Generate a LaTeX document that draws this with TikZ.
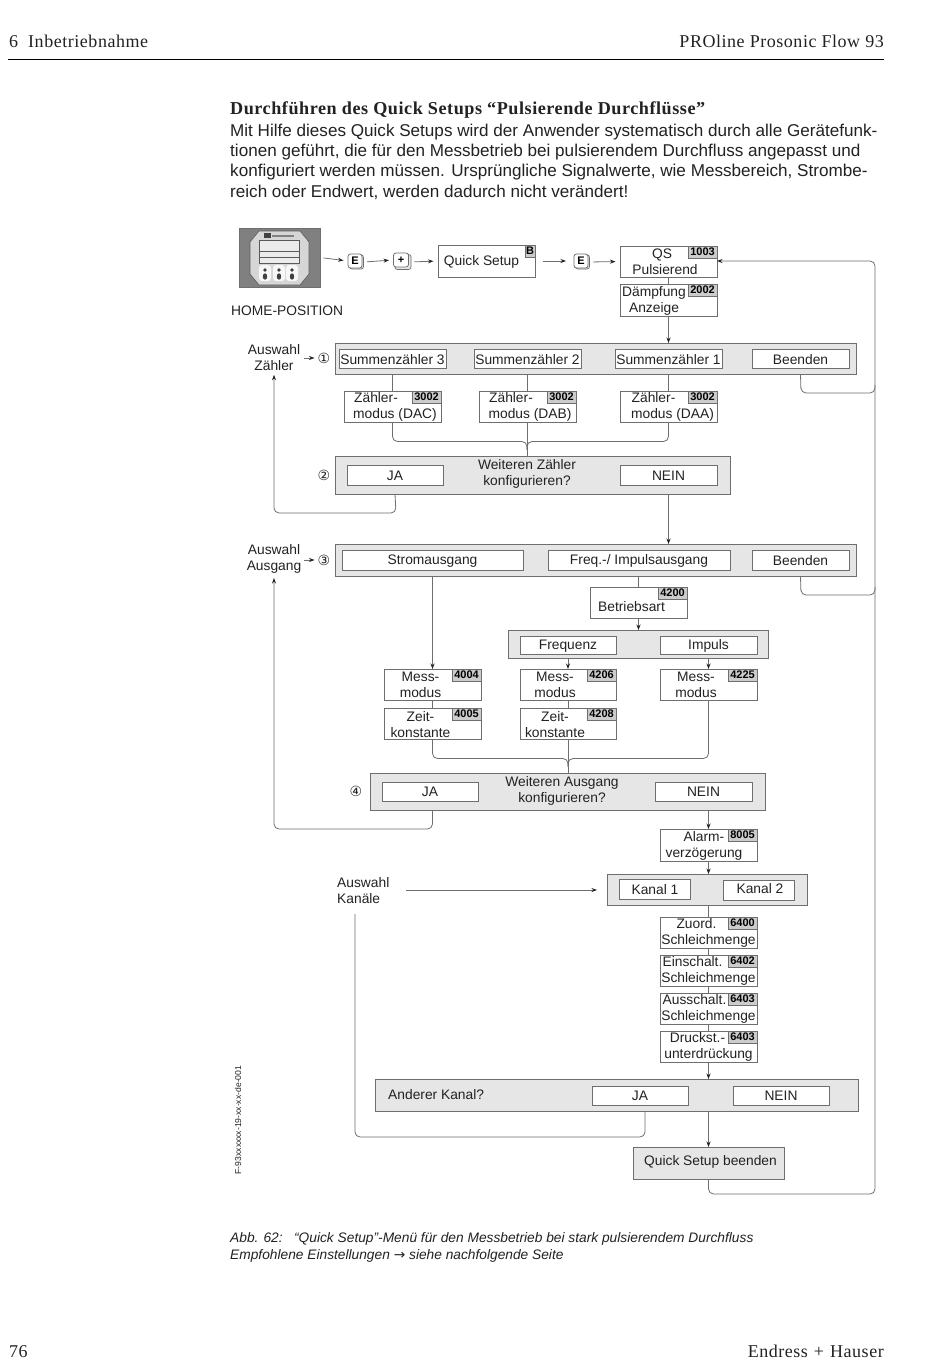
\documentclass[tikz,border=0pt]{standalone}
\usepackage{fontspec}
\setmainfont{Liberation Sans}
\newfontfamily\slab[LetterSpace=3]{Liberation Serif}
\newfontfamily\circfont{DejaVu Sans}
\usetikzlibrary{arrows.meta,calc}
\definecolor{bandfill}{HTML}{E6E6E6}
\definecolor{lineg}{HTML}{6E6E6E}
\definecolor{tagfill}{HTML}{CCCCCC}
\definecolor{inkc}{HTML}{222222}
\tikzset{
  wbox/.style={draw=lineg,line width=0.8pt,fill=white,inner sep=0pt,outer sep=0pt},
  band/.style={draw=lineg,line width=0.9pt,fill=bandfill,inner sep=0pt,outer sep=0pt},
  lbl/.style={font=\fontsize{13.8}{16}\selectfont,text=inkc,align=center,inner sep=0pt},
  lbll/.style={font=\fontsize{13.8}{16}\selectfont,text=inkc,align=left,inner sep=0pt,anchor=west},
  tagbox/.style={draw=lineg,line width=0.5pt,fill=tagfill,font=\fontsize{11}{12}\bfseries\selectfont,text=black,inner sep=0.5pt,minimum height=12pt,minimum width=29pt,anchor=north east,outer sep=0pt},
  tagsmall/.style={tagbox,minimum width=10pt},
  keyf/.style={draw=lineg,line width=0.8pt,fill=white,rounded corners=2.5pt,font=\fontsize{11}{12}\bfseries\selectfont,text=black,inner sep=0pt,minimum width=14pt,minimum height=14pt,outer sep=0pt},
  keyb/.style={draw=lineg,line width=0.7pt,fill=bandfill,rounded corners=2.5pt,inner sep=0pt,minimum width=14pt,minimum height=14pt,outer sep=0pt},
  conn/.style={draw=lineg,line width=0.8pt,rounded corners=5pt},
  arr/.style={conn,-{Stealth[length=5.5pt,width=4pt,inkc]}},
  gaparr/.style={arr,shorten <=3.5pt,shorten >=4.5pt},
  txt/.style={font=\fontsize{17.1}{20}\selectfont,text=inkc,inner sep=0pt,anchor=base west},
  slabt/.style={font=\slab\fontsize{18}{19}\selectfont,text=inkc,inner sep=0pt},
  captxt/.style={font=\fontsize{13.75}{16}\itshape\selectfont,text=inkc,inner sep=0pt,anchor=base west},
  circ/.style={font=\circfont\fontsize{14}{16}\selectfont,text=inkc,inner sep=0pt},
}
\newcommand{\nbox}[7]{%
  \node[wbox,minimum width={#4-#2},minimum height={#5-#3}] (#1) at ({(#2+#4)/2},{(#3+#5)/2}) {};
  \node[lbl] (#1-t) at (#6,{(#3+#5)/2+0.7}) {#7};}
\newcommand{\bandn}[5]{%
  \node[band,minimum width={#4-#2},minimum height={#5-#3}] (#1) at ({(#2+#4)/2},{(#3+#5)/2}) {};}
\newcommand{\tagn}[2]{\node[tagbox] (#1-n) at (#1.north east) {#2};}
\begin{document}
\begin{tikzpicture}[x=1pt,y=-1pt]
\useasboundingbox (0,0) rectangle (950,1370);
\fill[white] (0,0) rectangle (950,1370);
% header
\node[slabt,anchor=base west] (hl) at (9,48) {6\hspace{10pt}Inbetriebnahme};
\node[slabt,anchor=base east] (hr) at (884,48) {PROline Prosonic Flow 93};
\coordinate (rl) at (8,60); \coordinate (rr) at (884,60);
\draw[line width=1pt,black] (rl) -- (rr);
% intro
\node[txt,font=\slab\bfseries\fontsize{18.15}{19}\selectfont] (title) at (230,115) {Durchführen des Quick Setups “Pulsierende Durchflüsse”};
\node[txt] (p1) at (230,136) {Mit Hilfe dieses Quick Setups wird der Anwender systematisch durch alle Gerätefunk-};
\node[txt] (p2) at (230,156) {tionen geführt, die für den Messbetrieb bei pulsierendem Durchfluss angepasst und};
\node[txt] (p3) at (230,176) {konfiguriert werden müssen. Ursprüngliche Signalwerte, wie Messbereich, Strombe-};
\node[txt] (p4) at (230,197) {reich oder Endwert, werden dadurch nicht verändert!};
% home device
\node[draw=lineg,fill=black!50,line width=0.8pt,minimum width=81pt,minimum height=59pt,inner sep=0pt,outer sep=0pt] (home) at (279.5,257.5) {};
\fill[black!16,draw=black!65,line width=0.6pt] (259,231) -- (300,231) -- (309,242) -- (309,274) -- (300,285) -- (259,285) -- (250,274) -- (250,242) -- cycle;
\fill[black!75] (264,232.5) rectangle (271,237.5);
\fill[black!50] (272,235) rectangle (294,236.5);
\draw[black!65,line width=0.6pt,fill=black!8] (259.5,240) rectangle (299.5,251);
\draw[black!65,line width=0.6pt,fill=black!8] (259.5,251) rectangle (299.5,257);
\draw[black!65,line width=0.6pt,fill=black!8] (259.5,257) rectangle (299.5,263);
\foreach \bx in {265,279,292}{
  \fill[black!3,rounded corners=3pt] (\bx-6,265) rectangle (\bx+6,281);
  \fill[black!75] (\bx,270) circle (1.8pt);
  \fill[black!75] (\bx,276.5) ellipse (2.2pt and 3.2pt);
}
\node[lbl,anchor=base west] (hometxt) at (231,315) {HOME-POSITION};
% keys
\node[keyb] (k1b) at (356.5,262) {};
\node[keyf] (k1) at (355,261) {E};
\node[keyb,minimum width=16pt,minimum height=15pt] (k2b) at (403,262) {};
\node[keyf,minimum width=15pt] (k2) at (401,260) {+};
\nbox{qs}{438}{245}{535}{277}{481.5}{Quick Setup}
\node[tagsmall] (qs-n) at (qs.north east) {B};
\node[keyb] (k3b) at (582.5,262) {};
\node[keyf] (k3) at (581,261) {E};
\nbox{qsp}{620}{246}{717}{277}{662}{QS\\Pulsierend\hspace*{-6pt}}
\tagn{qsp}{1003}
\nbox{daem}{620}{284}{717}{316}{654}{Dämpfung\\Anzeige}
\tagn{daem}{2002}
\draw[gaparr] (home.east) -- (k1.west);
\draw[gaparr] (k1b.east) -- (k2.west);
\draw[gaparr] (k2b.east) -- (qs.west);
\draw[gaparr,shorten <=8pt,shorten >=8pt] (qs.east) -- (k3.west);
\draw[gaparr] (k3b.east) -- (qsp.west);
\draw[conn] (qsp.south) -- (daem.north);
% band 1
\bandn{b1}{335}{343}{856}{374}
\nbox{s3}{339}{349}{446}{368}{392.5}{Summenzähler 3}
\nbox{s2}{474}{349}{581}{368}{527.5}{Summenzähler 2}
\nbox{s1}{615}{349}{722}{368}{668.5}{Summenzähler 1}
\nbox{bee1}{752}{349}{849}{368}{800.5}{Beenden}
\draw[arr] (daem.south) -- (b1.north -| daem.south);
\node[lbl] (azl) at (274,357.5) {Auswahl\\Zähler};
\node[circ] (c1) at (324,358) {①};
\draw[arr,shorten <=1pt,shorten >=3pt] (azl.east |- c1) ++(3,0) coordinate (a1s) -- (c1.west);
% zaehler boxes
\nbox{dac}{344}{391}{441}{422}{395}{Zähler-\hspace*{38pt}\\modus (DAC)}
\tagn{dac}{3002}
\nbox{dab}{479}{391}{576}{422}{530}{Zähler-\hspace*{38pt}\\modus (DAB)}
\tagn{dab}{3002}
\nbox{daa}{620}{391}{717}{422}{672.5}{Zähler-\hspace*{38pt}\\modus (DAA)}
\tagn{daa}{3002}
\draw[conn] (s3.south |- b1.south) -- (dac.north -| s3.south);
\draw[conn] (s2.south |- b1.south) -- (dab.north -| s2.south);
\draw[conn] (s1.south |- b1.south) -- (daa.north -| s1.south);
% band 2
\bandn{b2}{335}{456}{730}{494}
\nbox{ja1}{347}{465}{443}{485}{395}{JA}
\nbox{ne1}{620}{465}{717}{485}{668.5}{NEIN}
\node[lbl] (wz) at (527,474) {Weiteren Zähler\\konfigurieren?};
\node[circ] (c2) at (324,475) {②};
\coordinate (m1) at (527,441.5);
\draw[conn] (s3.south |- dac.south) -- (392.5,441.5) -- (m1) -- ++(0,8);
\draw[conn] (s1.south |- daa.south) -- (668.5,441.5) -- (m1) -- ++(0,8);
\draw[conn] (dab.south) -- (dab.south |- b2.north);
\coordinate (lp1) at (396,513);
\draw[arr] (ja1.south |- b2.south) -- (lp1) -- (azl.south |- lp1) -- ($(azl.south)+(0,4)$);
% band 3
\draw[arr] (ne1.south |- b2.south) -- (668.5,544);
\bandn{b3}{335}{544}{856}{576}
\nbox{strom}{342}{550}{523}{570}{432.5}{Stromausgang}
\nbox{freq}{548}{550}{730}{570}{639}{Freq.-/ Impulsausgang}
\nbox{bee2}{752}{550}{849}{570}{800.5}{Beenden}
\node[lbl] (aag) at (274,558.5) {Auswahl\\Ausgang};
\node[circ] (c3) at (324,560) {③};
\draw[arr,shorten <=1pt,shorten >=3pt] (aag.east |- c3) ++(2,0) coordinate (a3s) -- (c3.west);
\nbox{bet}{590}{587}{687}{618}{631.5}{\raisebox{-4.5pt}[10pt][3pt]{Betriebsart}}
\tagn{bet}{4200}
\draw[conn] (bet.north |- b3.south) -- (bet.north);
\bandn{b4}{508}{630}{768}{658}
\nbox{frq}{520}{636}{616}{654}{568}{Frequenz}
\nbox{imp}{660}{636}{757}{654}{708.5}{Impuls}
\draw[arr] (bet.south) -- (bet.south |- b4.north);
\nbox{m4004}{384}{669}{481}{700}{420.5}{Mess-\\modus}
\tagn{m4004}{4004}
\nbox{z4005}{384}{708}{481}{739}{420.5}{Zeit-\\konstante}
\tagn{z4005}{4005}
\nbox{m4206}{520}{669}{616}{700}{555}{Mess-\\modus}
\tagn{m4206}{4206}
\nbox{z4208}{520}{708}{616}{739}{555}{Zeit-\\konstante}
\tagn{z4208}{4208}
\nbox{m4225}{660}{669}{757}{700}{696}{Mess-\\modus}
\tagn{m4225}{4225}
\draw[arr] (strom.south |- b3.south) -- (m4004.north);
\draw[conn] (m4004.south) -- (z4005.north);
\draw[conn] (m4206.south) -- (z4208.north);
\draw[arr] (frq.south |- b4.south) -- (m4206.north);
\draw[arr] (imp.south |- b4.south) -- (m4225.north);
% band 5
\bandn{b5}{370}{773}{765}{810}
\nbox{ja2}{382}{782}{478}{801}{430}{JA}
\nbox{ne2}{655}{782}{752}{801}{703.5}{NEIN}
\node[lbl] (wa) at (562,791) {Weiteren Ausgang\\konfigurieren?};
\node[circ] (c4) at (356,791) {④};
\coordinate (m2) at (568,758.5);
\draw[conn] (z4005.south) -- (432.5,758.5) -- (m2) -- ++(0,8);
\draw[conn] (m4225.south) -- (708.5,758.5) -- (m2) -- ++(0,8);
\draw[conn] (z4208.south) -- (z4208.south |- b5.north);
\coordinate (lp2) at (432.5,829);
\draw[arr] (z4005.south |- b5.south) -- (lp2) -- (azl.south |- lp2) -- (274,578);
% lower chain
\nbox{al}{660}{829}{757}{861}{704}{Alarm-\\verzögerung}
\tagn{al}{8005}
\draw[arr] (708.5,810) -- (al.north);
\bandn{b6}{607}{874}{807}{905}
\nbox{ka1}{619}{879}{690}{899}{655}{Kanal 1}
\nbox{ka2}{723}{880}{794}{900}{760}{\raisebox{4pt}{Kanal 2}}
\draw[arr] (al.south) -- (al.south |- b6.north);
\node[lbll] (aka) at (337,891) {Auswahl\\Kanäle};
\coordinate (akas) at (406,890);
\draw[arr] (akas) -- (597,890);
\nbox{z1}{660}{917}{757}{948}{708.5}{Zuord.\hspace*{24pt}\\Schleichmenge}
\tagn{z1}{6400}
\nbox{z2}{660}{955}{757}{986}{708.5}{Einschalt.\hspace*{32pt}\\Schleichmenge}
\tagn{z2}{6402}
\nbox{z3}{660}{993}{757}{1024}{708.5}{Ausschalt.\hspace*{28pt}\\Schleichmenge}
\tagn{z3}{6403}
\nbox{z4}{660}{1031}{757}{1062}{708.5}{Druckst.-\hspace*{22pt}\\unterdrückung}
\tagn{z4}{6403}
\draw[conn] (z1.north |- b6.south) -- (z1.north);
\draw[conn] (z1.south) -- (z2.north);
\draw[conn] (z2.south) -- (z3.north);
\draw[conn] (z3.south) -- (z4.north);
\bandn{b7}{375}{1079}{858}{1111}
\draw[arr] (z4.south) -- (z4.south |- b7.north);
\nbox{ja3}{592}{1086}{688}{1105}{640}{JA}
\nbox{ne3}{733}{1086}{829}{1105}{781}{NEIN}
\node[lbll] (ak) at (388,1094.5) {Anderer Kanal?};
\coordinate (lp3) at (645,1137);
\coordinate (lp3e) at (355,914);
\draw[conn] (645,1111) -- (lp3) -- (lp3e |- lp3) -- (lp3e);
\node[band,minimum width=151pt,minimum height=32pt] (qe) at (708.5,1163) {};
\node[lbl] (qet) at (710.5,1162) {Quick Setup beenden};
\draw[arr] (708.5,1111) -- (qe.north);
% right return
\coordinate (rt) at (875,261);
\coordinate (rb) at (875,1194);
\draw[arr] (qe.south) -- (708.5,1194) -- (rb) -- (rt) -- (qsp.east |- rt);
\draw[conn] (bee1.south |- b1.south) -- (801,393) -- (875,393) -- (875,385);
\draw[conn] (bee2.south |- b3.south) -- (801,595) -- (875,595) -- (875,587);
% side code
\node[rotate=90,font=\fontsize{8.6}{9}\selectfont,text=inkc,inner sep=0pt] (code) at (238,1120) {F-93xxxxxx-19-xx-xx-de-001};
% caption
\node[captxt] (cp1) at (230,1242) {Abb. 62:\ \ \ “Quick Setup”-Menü für den Messbetrieb bei stark pulsierendem Durchfluss};
\node[captxt] (cp2) at (230,1259) {Empfohlene Einstellungen {\circfont\upshape →} siehe nachfolgende Seite};
% footer
\node[slabt,anchor=base west] (fl) at (9,1357) {76};
\node[slabt,anchor=base east] (fr) at (884,1357) {Endress\hspace{6pt}+\hspace{6pt}Hauser};
\end{tikzpicture}
\end{document}
